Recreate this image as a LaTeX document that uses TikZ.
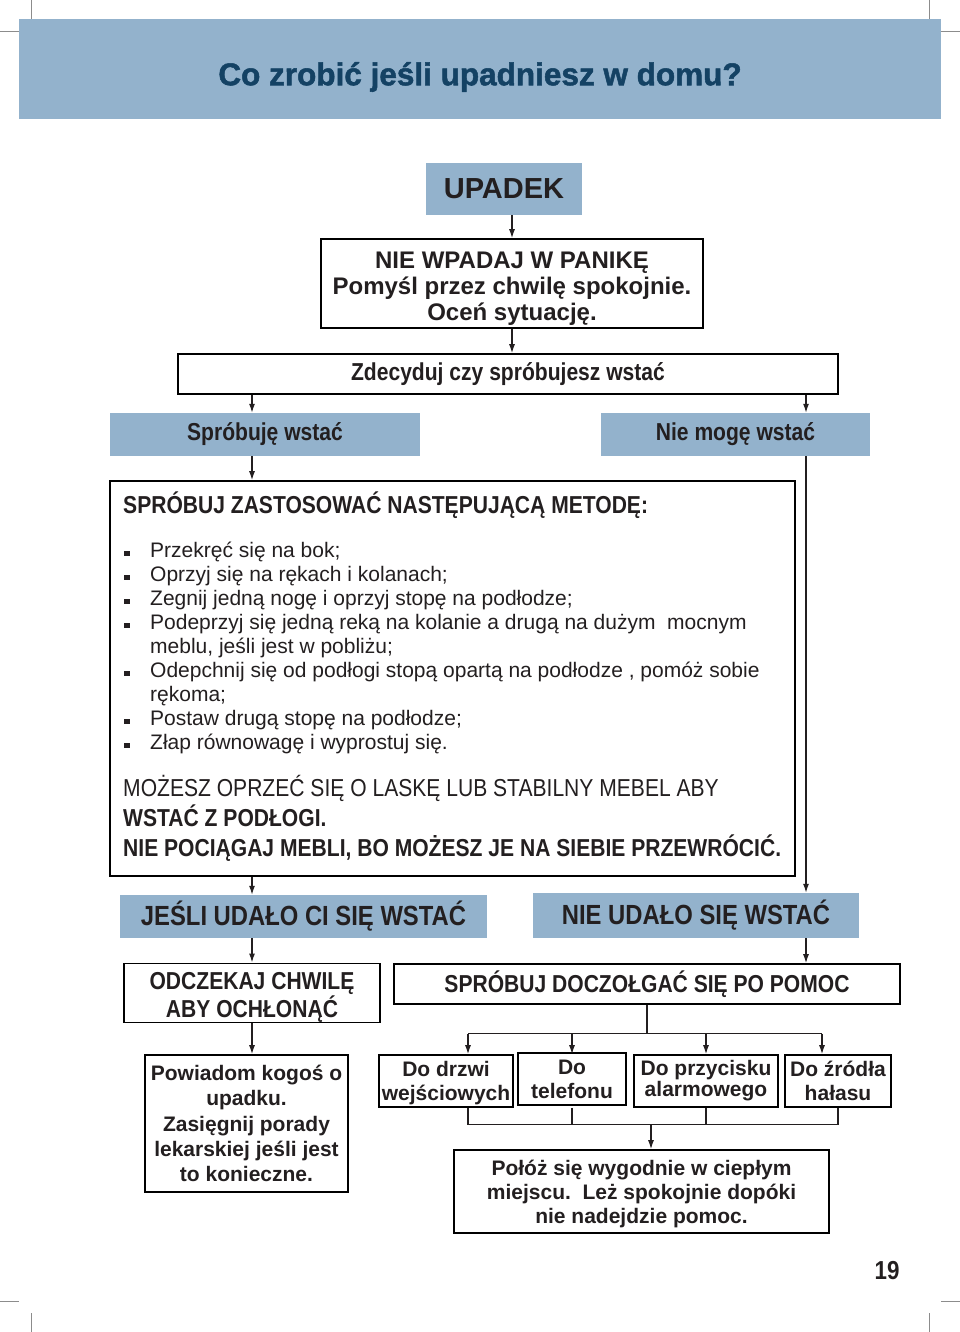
\documentclass[tikz,border=0pt]{standalone}
\usepackage{fontspec}
\setmainfont{Liberation Sans}
\newfontfamily\condfont[FakeStretch=0.86]{Liberation Sans}
\newfontfamily\titlefam[BoldFeatures={FakeBold=1.6}]{Liberation Sans}
\usetikzlibrary{arrows.meta,calc}
\definecolor{boxblue}{RGB}{147,178,204}
\definecolor{titleblue}{RGB}{20,66,100}
\definecolor{ink}{RGB}{35,31,32}
\newcommand{\titlefont}{\titlefam\bfseries\fontsize{31.5}{34}\selectfont}
\newcommand{\headfont}{\condfont\bfseries\fontsize{24.5}{25}\selectfont}
\newcommand{\bigheadfont}{\condfont\bfseries\fontsize{27.7}{30}\selectfont}
\newcommand{\plainfont}{\condfont\fontsize{24.5}{25}\selectfont}
\newcommand{\sq}{\rule[1.5pt]{5.5pt}{5.5pt}}
\newcommand{\toppad}[1]{\rule{0pt}{#1}}
\tikzstyle{whitebox}=[draw=black,
                      line width=1.6pt,
                      fill=white,
                      inner sep=0pt,
                      align=center,
                      text=ink]
\tikzstyle{bluebox}=[fill=boxblue,
                     inner sep=0pt,
                     align=center,
                     text=ink]
\tikzstyle{arr}=[-{Latex[length=9pt,width=6pt]},line width=1.3pt,draw=ink]
\tikzstyle{link}=[line width=1.3pt,draw=ink]
\tikzstyle{crop}=[line width=0.6pt,draw=black!45]

\begin{document}
\begin{tikzpicture}[x=1pt,y=-1pt]
    \useasboundingbox (0,0) rectangle (960,1332);
    % crop marks
    \draw[crop] (31,0) -- (31,19) (0,31) -- (19,31);
    \draw[crop] (929,0) -- (929,19) (941,31) -- (960,31);
    \draw[crop] (0,1301) -- (19,1301) (31,1313) -- (31,1332);
    \draw[crop] (941,1301) -- (960,1301) (929,1313) -- (929,1332);

    \node[fill=boxblue, minimum width=922, minimum height=100, inner sep=0pt] (header) at (480,69) {};
    \node[font=\titlefont, text=titleblue, inner sep=0pt, text height=22.5pt, text depth=0pt] (title) at (480,74) {Co zrobić jeśli upadniesz w domu?};

    \node[bluebox, minimum width=156, minimum height=52, font=\bfseries\fontsize{29}{30}\selectfont] (upadek) at (504,189) {UPADEK};
    \node[whitebox, minimum width=382, minimum height=89, font=\bfseries\fontsize{24}{26}\selectfont] (panic) at (512,283.5) {\toppad{27.2pt}NIE WPADAJ W PANIKĘ\\Pomyśl przez chwilę spokojnie.\\Oceń sytuację.};
    \node[whitebox, minimum width=660, minimum height=40, font=\headfont] (decide) at (508,374) {Zdecyduj czy spróbujesz wstać};
    \node[bluebox, minimum width=310, minimum height=43, font=\headfont] (try) at (265,434.5) {Spróbuję wstać};
    \node[bluebox, minimum width=269, minimum height=43, font=\headfont] (cant) at (735.5,434.5) {Nie mogę wstać};

    % method box
    \node[whitebox, minimum width=685, minimum height=395] (method) at (452.5,678.5) {};
    \node[anchor=base west, inner sep=0pt, font=\headfont, text=ink] (methodhead) at (123,513.6) {SPRÓBUJ ZASTOSOWAĆ NASTĘPUJĄCĄ METODĘ:};
    \node[anchor=base west, inner sep=0pt, font=\fontsize{21}{24}\selectfont, text=ink] (steps) at (124,557.5) {%
      \begin{tabular}[t]{@{}l@{}l@{}}
        \makebox[26pt][l]{\sq} & Przekręć się na bok;\\
        \makebox[26pt][l]{\sq} & Oprzyj się na rękach i kolanach;\\
        \makebox[26pt][l]{\sq} & Zegnij jedną nogę i oprzyj stopę na podłodze;\\
        \makebox[26pt][l]{\sq} & Podeprzyj się jedną reką na kolanie a drugą na dużym\ \ mocnym\\
                               & meblu, jeśli jest w pobliżu;\\
        \makebox[26pt][l]{\sq} & Odepchnij się od podłogi stopą opartą na podłodze , pomóż sobie\\
                               & rękoma;\\
        \makebox[26pt][l]{\sq} & Postaw drugą stopę na podłodze;\\
        \makebox[26pt][l]{\sq} & Złap równowagę i wyprostuj się.
      \end{tabular}};
    \node[anchor=base west, inner sep=0pt, font=\plainfont, text=ink] (cane) at (123,796.6) {MOŻESZ OPRZEĆ SIĘ O LASKĘ LUB STABILNY MEBEL ABY};
    \node[anchor=base west, inner sep=0pt, font=\headfont, text=ink] (floor) at (123,826.6) {WSTAĆ Z PODŁOGI.};
    \node[anchor=base west, inner sep=0pt, font=\headfont, text=ink] (warn) at (123,856.6) {NIE POCIĄGAJ MEBLI, BO MOŻESZ JE NA SIEBIE PRZEWRÓCIĆ.};

    \node[bluebox, minimum width=367, minimum height=43, font=\bigheadfont] (jesli) at (303.5,916.5) {JEŚLI UDAŁO CI SIĘ WSTAĆ};
    \node[bluebox, minimum width=326, minimum height=45, font=\bigheadfont] (nieudalo) at (696,915.5) {NIE UDAŁO SIĘ WSTAĆ};
    \node[whitebox, minimum width=256, minimum height=58, font=\headfont] (odczekaj) at (252,993) {\toppad{26.6pt}ODCZEKAJ CHWILĘ\\ABY OCHŁONĄĆ};
    \node[whitebox, minimum width=506, minimum height=40, font=\headfont] (doczolgac) at (647,984) {SPRÓBUJ DOCZOŁGAĆ SIĘ PO POMOC};
    \node[whitebox, minimum width=203, minimum height=137, font=\bfseries\fontsize{21}{25.3}\selectfont] (powiadom) at (246.5,1123.5) {Powiadom kogoś o\\upadku.\\Zasięgnij porady\\lekarskiej jeśli jest\\to konieczne.};

    \node[whitebox, minimum width=134, minimum height=52, font=\bfseries\fontsize{21}{24}\selectfont] (drzwi) at (446,1081) {\toppad{20.3pt}Do drzwi\\wejściowych};
    \node[whitebox, minimum width=108, minimum height=52, font=\bfseries\fontsize{21}{24}\selectfont] (telefon) at (572,1079) {Do\\telefonu};
    \node[whitebox, minimum width=144, minimum height=52, font=\bfseries\fontsize{21}{21}\selectfont] (przycisk) at (706,1081) {Do przycisku\\alarmowego};
    \node[whitebox, minimum width=106, minimum height=52, font=\bfseries\fontsize{21}{24}\selectfont] (zrodlo) at (838,1081) {Do źródła\\hałasu};
    \node[whitebox, minimum width=375, minimum height=83, font=\bfseries\fontsize{21}{24}\selectfont] (poloz) at (641.5,1191.5) {\toppad{20pt}Połóż się wygodnie w ciepłym\\miejscu.\ \ Leż spokojnie dopóki\\nie nadejdzie pomoc.};

    \node[font=\condfont\bfseries\fontsize{26}{28}\selectfont, text=ink] (page) at (887,1271) {19};

    % connectors
    \coordinate (lx) at (252,0);
    \coordinate (rx) at (806,0);
    \draw[arr] (panic.north |- upadek.south) -- (panic.north);
    \draw[arr] (panic.south) -- (panic.south |- decide.north);
    \draw[arr] (decide.south -| lx) -- (try.north -| lx);
    \draw[arr] (decide.south -| rx) -- (cant.north -| rx);
    \draw[arr] (try.south -| lx) -- (method.north -| lx);
    \draw[arr] (cant.south -| rx) -- (nieudalo.north -| rx);
    \draw[arr] (method.south -| lx) -- (jesli.north -| lx);
    \draw[arr] (jesli.south -| lx) -- (odczekaj.north);
    \draw[arr] (odczekaj.south) -- (powiadom.north -| odczekaj.south);
    \draw[arr] (nieudalo.south -| rx) -- (doczolgac.north -| rx);

    % fork to the four places
    \coordinate (fork) at ($(doczolgac.south)+(0,29)$);
    \coordinate (d1) at ([xshift=22pt]drzwi.north);
    \coordinate (d4) at ([xshift=-16pt]zrodlo.north);
    \draw[link] (doczolgac.south) -- (fork);
    \draw[link] (d1 |- fork) -- (d4 |- fork);
    \foreach \t in {d1,telefon.north,przycisk.north,d4}
        \draw[arr] (\t |- fork) -- (\t |- drzwi.north);

    % join towards the last box
    \coordinate (pin) at ([xshift=9.5pt]poloz.north);
    \coordinate (join) at ($(pin)+(0,-25)$);
    \draw[link] (d1 |- drzwi.south) |- (join -| zrodlo.south) -- (zrodlo.south);
    \draw[link] (telefon.south |- drzwi.south) -- (telefon.south |- join);
    \draw[link] (przycisk.south) -- (przycisk.south |- join);
    \draw[arr] (join) -- (pin);
\end{tikzpicture}
\end{document}
